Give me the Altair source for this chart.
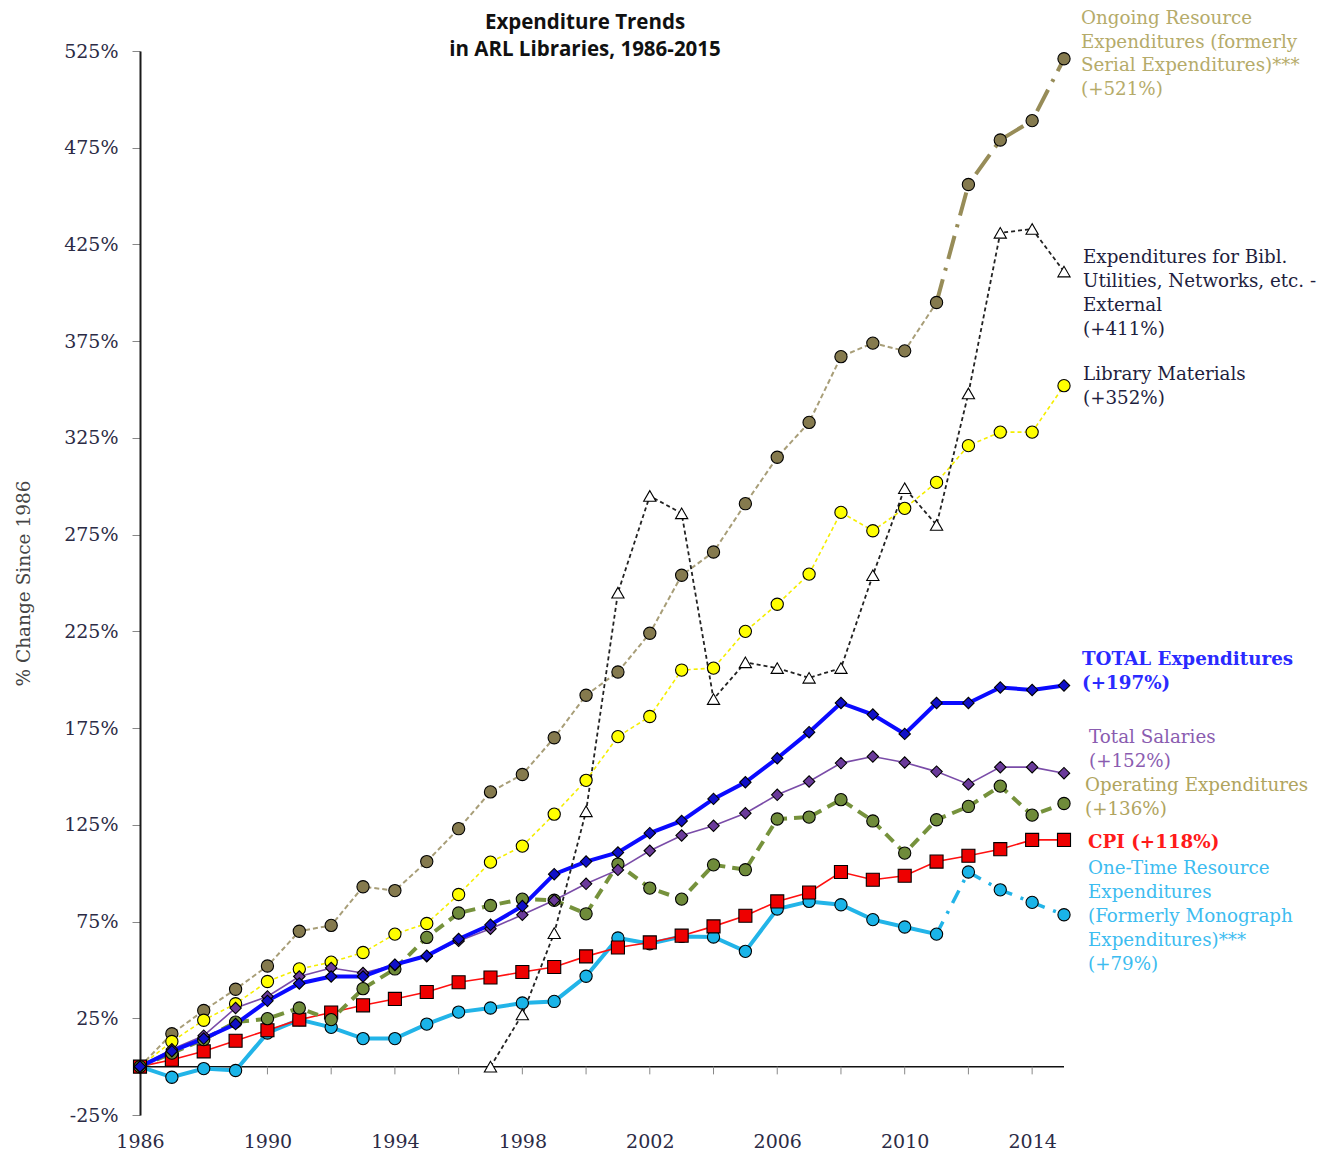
import altair as alt
import pandas as pd

years = list(range(1986, 2016))

ongoing = [0, 17, 29, 40, 52, 70, 73, 93, 91, 106, 123, 142, 151, 170, 192, 204, 224,
           254, 266, 291, 315, 333, 367, 374, 370, 395, 456, 479, 489, 521]
bibl = [None] * 11 + [0, 27, 69, 132, 245, 295, 286, 190, 209, 206, 201, 206, 254, 299,
                      280, 348, 431, 433, 411]
library = [0, 13, 24, 32.5, 44, 50.5, 54, 59, 68.5, 74, 89, 105.7, 114, 130.5, 148, 170.6,
           181, 205, 206, 225, 239, 254.6, 286.5, 277, 288.6, 302, 321, 328, 328, 352]
total = [0, 8, 14.5, 22, 34, 43, 46.6, 46.6, 52.7, 57.3, 66, 73.3, 83, 99.5, 106, 110.7,
         120.7, 127, 138.4, 147, 159.4, 172.9, 188, 182, 172, 188, 188, 196, 194.7, 197]
salaries = [0, 9, 16, 30.3, 36.3, 46.6, 51, 48.4, 52.5, 57, 65, 71.3, 78.5, 86, 94.5, 101.7,
            111.6, 119.5, 124.5, 131, 140.5, 147.4, 156.9, 160.3, 157.2, 152.5, 146, 154.8,
            154.8, 151.7]
operating = [0, 7, 14, 23, 24.8, 30.3, 24.3, 40.3, 50.5, 66.8, 79.4, 83.3, 86.6, 86, 79,
             104.7, 92.3, 86.6, 104.3, 101.8, 128, 129, 138, 127, 110.4, 127.6, 134.5, 145,
             130, 136]
cpi = [0, 3.6, 7.9, 13.4, 18.8, 24.3, 28, 31.7, 35, 38.6, 43.6, 46.1, 48.9, 51.5, 57, 61.6,
       64.2, 67.7, 72.5, 78, 85.4, 90, 100.6, 96.6, 98.7, 106, 109, 112.4, 117.2, 117.2]
onetime = [0, -5.5, -1, -2, 17.4, 24.3, 20.3, 14.5, 14.5, 22, 28.2, 30.3, 32.9, 33.7, 46.7,
           66.5, 63.5, 67.3, 67, 59.6, 81.5, 85.4, 83.7, 76, 72.2, 68.5, 100.6, 91.4, 84.9,
           78.5]

series_names = ["Ongoing", "Bibl", "Library", "Operating", "Salaries", "Total", "CPI", "OneTime"]
series_values = [ongoing, bibl, library, operating, salaries, total, cpi, onetime]

x_label_years = list(range(1986, 2015, 4))
zero_tick_years = list(range(1988, 2015, 2))
y_tick_values = list(range(-25, 526, 50))

label_texts = {
    "Ongoing": ["Ongoing Resource", "Expenditures (formerly", "Serial Expenditures)***", "(+521%)"],
    "Bibl": ["Expenditures for Bibl.", "Utilities, Networks, etc. -", "External", "(+411%)"],
    "Library": ["Library Materials", "(+352%)"],
    "Total": ["TOTAL Expenditures", "(+197%)"],
    "Salaries": ["Total Salaries", "(+152%)"],
    "Operating": ["Operating Expenditures", "(+136%)"],
    "CPI": ["CPI (+118%)"],
    "OneTime": ["One-Time Resource", "Expenditures", "(Formerly Monograph", "Expenditures)***", "(+79%)"],
}
title_lines = ["Expenditure Trends", "in ARL Libraries, 1986-2015"]

rows = []
for name, vals in zip(series_names, series_values):
    for yr, v in zip(years, vals):
        if v is not None:
            rows.append({"year": yr, "value": v, "series": name})
df = pd.DataFrame(rows)

SERIF = "DejaVu Serif"
X_SCALE = alt.Scale(domain=[1986, 2015], nice=False, zero=False)
Y_SCALE = alt.Scale(domain=[-25, 525], nice=False, zero=False)

x_axis = alt.Axis(values=x_label_years, format="d", domain=False, ticks=False, grid=False,
                  labelFont=SERIF, labelFontSize=19, labelColor="#2b2b45", labelPadding=17,
                  labelFlush=False, labelOverlap=False, title=None)
y_axis = alt.Axis(values=y_tick_values, labelExpr="datum.value + '%'", domain=True,
                  domainColor="#1a1a1a", domainWidth=2, ticks=True, tickColor="#888",
                  tickSize=8, tickWidth=1, grid=False, labelFont=SERIF, labelFontSize=19,
                  labelColor="#2b2b45", labelPadding=14, labelFlush=False,
                  title="% Change Since 1986",
                  titleFont=SERIF, titleFontSize=18.5, titleFontWeight="normal",
                  titleColor="#444444", titlePadding=30)


def xy():
    return dict(x=alt.X("year:Q", scale=X_SCALE, axis=x_axis),
                y=alt.Y("value:Q", scale=Y_SCALE, axis=y_axis))


styles = {
    "Ongoing": dict(line="#a89e78", width=2, dash=[5, 3], fill="#857a4e", shape="circle", size=150),
    "Bibl": dict(line="#222222", width=1.8, dash=[4, 3], fill="#ffffff", shape="triangle-up", size=150),
    "Library": dict(line="#f5ee00", width=1.6, dash=[4, 3], fill="#ffff00", shape="circle", size=150),
    "Operating": dict(line="#76923c", width=4, dash=[11, 7], fill="#6f8b3a", shape="circle", size=150),
    "Salaries": dict(line="#7a4ca8", width=1.6, dash=None, fill="#6a3a9a", shape="diamond", size=130),
    "Total": dict(line="#0a0aff", width=4, dash=None, fill="#1010c8", shape="diamond", size=130),
    "CPI": dict(line="#ff1010", width=1.6, dash=None, fill="#ee0000", shape="square", size=170),
    "OneTime": dict(line="#22b4e8", width=4, dash=None, fill="#1ab4e8", shape="circle", size=150),
}
tail_styles = {
    "Ongoing": dict(line="#978c58", width=4, dash=[24, 9, 3, 9]),
    "OneTime": dict(line="#22b4e8", width=3.5, dash=[14, 9, 3, 9]),
}
split_year = 2011

layers = []

# zero line and its ticks
layers.append(
    alt.Chart(pd.DataFrame({"year": [1986], "year2": [2015], "value": [0]}))
    .mark_rule(color="#111111", strokeWidth=1.5)
    .encode(**xy(), x2="year2:Q")
)
layers.append(
    alt.Chart(pd.DataFrame({"year": zero_tick_years, "value": [0] * len(zero_tick_years),
                            "value2": [-4] * len(zero_tick_years)}))
    .mark_rule(color="#888888", strokeWidth=1)
    .encode(**xy(), y2="value2:Q")
)

line_order = ["Ongoing", "Library", "OneTime", "CPI", "Operating", "Salaries", "Total", "Bibl"]
for name in line_order:
    st = styles[name]
    base = alt.Chart(df).transform_filter(alt.datum.series == name)
    kw = dict(color=st["line"], strokeWidth=st["width"])
    if st["dash"]:
        kw["strokeDash"] = st["dash"]
    if name in tail_styles:
        layers.append(base.transform_filter(alt.datum.year <= split_year)
                      .mark_line(**kw).encode(**xy()))
        ts = tail_styles[name]
        layers.append(base.transform_filter(alt.datum.year >= split_year)
                      .mark_line(color=ts["line"], strokeWidth=ts["width"],
                                 strokeDash=ts["dash"]).encode(**xy()))
    else:
        layers.append(base.mark_line(**kw).encode(**xy()))

for name in line_order:
    st = styles[name]
    layers.append(
        alt.Chart(df).transform_filter(alt.datum.series == name)
        .mark_point(shape=st["shape"], size=st["size"], fill=st["fill"], stroke="#000000",
                    strokeWidth=1.1, fillOpacity=1, opacity=1)
        .encode(**xy())
    )

# right-side labels: (x px, first-line centre y px relative to plot top, colour, weight)
label_pos = {
    "Ongoing": (941, -32, "#b5ab6a", "normal"),
    "Bibl": (943, 207, "#1e1e3e", "normal"),
    "Library": (943, 324, "#1e1e3e", "normal"),
    "Total": (942, 609, "#2a2aff", "bold"),
    "Salaries": (949, 687, "#8a5cb0", "normal"),
    "Operating": (945, 735, "#b0a45e", "normal"),
    "CPI": (948, 792, "#ff1a1a", "bold"),
    "OneTime": (948, 818, "#3cbcf0", "normal"),
}
one = pd.DataFrame({"k": [0]})
for name, (xp, yp, col, wt) in label_pos.items():
    lh = 23.5 if name == "Ongoing" else 24
    layers.append(
        alt.Chart(one).mark_text(text=label_texts[name], align="left", baseline="middle",
                                 lineHeight=lh, font=SERIF, fontSize=18.3, color=col,
                                 fontWeight=wt)
        .encode(x=alt.value(xp), y=alt.value(yp))
    )

layers.append(
    alt.Chart(one).mark_text(text=title_lines, align="center", baseline="middle",
                             lineHeight=27, font="Open Sans", fontSize=20.5,
                             fontWeight="bold", color="#111111")
    .encode(x=alt.value(445), y=alt.value(-28))
)

chart = (
    alt.layer(*layers)
    .properties(width=924, height=1064,
                padding={"left": 132, "top": 43, "right": 259, "bottom": 40},
                autosize=alt.AutoSizeParams(type="none"))
    .configure_view(stroke=None)
)

chart.save("out.html", embed_options={"renderer": "svg", "actions": False})
